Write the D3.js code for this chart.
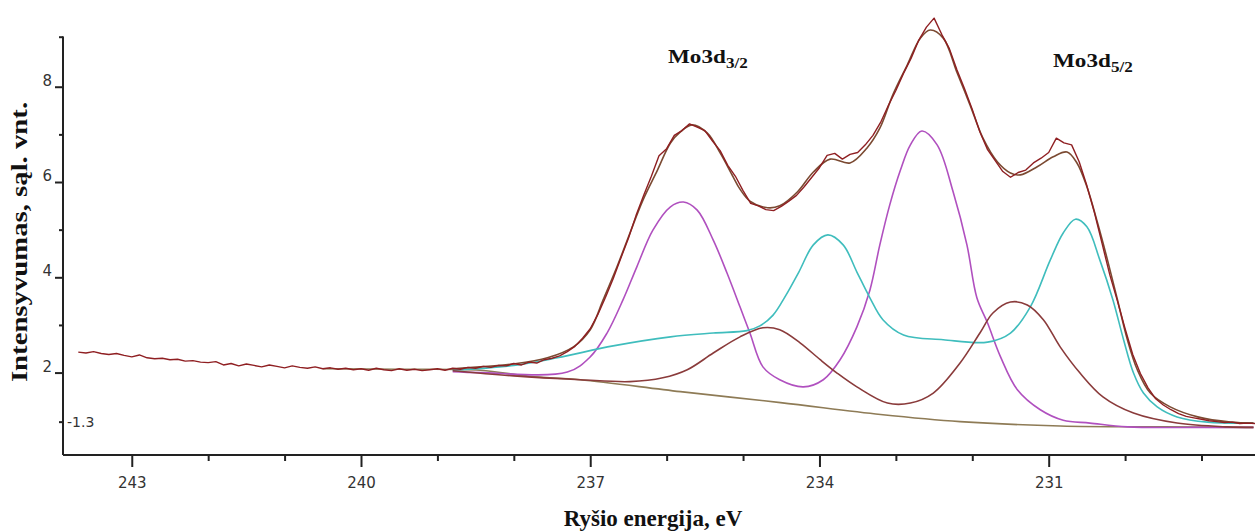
<!DOCTYPE html>
<html>
<head>
<meta charset="utf-8">
<script src="https://cdn.jsdelivr.net/npm/d3@7"></script>
<style>
  html, body { margin: 0; padding: 0; background: #fff; }
  svg { display: block; }
</style>
</head>
<body>
<svg id="chart" width="1255" height="531"></svg>
<script>
// Mo 3d XPS spectrum: binding energy (eV) vs intensity (arb. units)

// measured spectrum [eV, intensity]
const spectrum = [
  [243.7,2.43],[243.6,2.41],[243.5,2.44],[243.4,2.40],[243.3,2.38],[243.2,2.40],[243.1,2.36],[243.0,2.33],
  [242.9,2.37],[242.8,2.31],[242.7,2.29],[242.6,2.30],[242.5,2.27],[242.4,2.28],[242.3,2.24],[242.2,2.25],
  [242.1,2.22],[242.0,2.21],[241.9,2.23],[241.8,2.16],[241.7,2.19],[241.6,2.14],[241.5,2.18],[241.4,2.15],
  [241.3,2.12],[241.2,2.16],[241.1,2.13],[241.0,2.10],[240.9,2.14],[240.8,2.11],[240.7,2.09],[240.6,2.12],
  [240.5,2.08],[240.4,2.10],[240.3,2.07],[240.2,2.09],[240.1,2.06],[240.0,2.08],[239.9,2.05],[239.8,2.09],
  [239.7,2.06],[239.6,2.04],[239.5,2.08],[239.4,2.05],[239.3,2.07],[239.2,2.04],[239.1,2.06],[239.0,2.08],
  [238.9,2.05],[238.8,2.09],[238.7,2.07],[238.6,2.11],[238.5,2.09],[238.4,2.13],[238.3,2.11],[238.2,2.15],
  [238.1,2.14],[238.0,2.19],[237.9,2.16],[237.8,2.22],[237.7,2.20],[237.6,2.27],[237.5,2.30],[237.4,2.35],
  [237.3,2.44],[237.2,2.55],[237.1,2.72],[237.0,2.92],[236.9,3.22],[236.8,3.58],[236.7,3.97],[236.6,4.40],
  [236.5,4.82],[236.4,5.30],[236.3,5.72],[236.2,6.12],[236.1,6.55],[236.0,6.70],[235.9,6.98],[235.8,7.08],
  [235.7,7.22],[235.6,7.15],[235.5,7.08],[235.4,6.86],[235.3,6.66],[235.2,6.35],[235.1,6.12],[235.0,5.82],
  [234.9,5.55],[234.8,5.50],[234.7,5.42],[234.6,5.40],[234.5,5.49],[234.4,5.60],[234.3,5.72],[234.2,5.90],
  [234.1,6.10],[234.0,6.30],[233.9,6.56],[233.8,6.60],[233.7,6.48],[233.6,6.58],[233.5,6.62],[233.4,6.78],
  [233.3,6.98],[233.2,7.25],[233.1,7.60],[233.0,7.92],[232.9,8.28],[232.8,8.60],[232.7,8.98],[232.6,9.25],
  [232.5,9.44],[232.4,9.10],[232.3,8.80],[232.2,8.35],[232.1,7.95],[232.0,7.52],[231.9,7.05],[231.8,6.68],
  [231.7,6.45],[231.6,6.22],[231.5,6.10],[231.4,6.20],[231.3,6.25],[231.2,6.40],[231.1,6.50],[231.0,6.62],
  [230.9,6.92],[230.8,6.82],[230.7,6.78],[230.6,6.42],[230.5,5.92],[230.4,5.35],[230.3,4.70],[230.2,4.05],
  [230.1,3.50],[230.0,2.92],[229.9,2.38],[229.8,1.98],[229.7,1.68],[229.6,1.45],[229.5,1.32],[229.4,1.22],
  [229.3,1.14],[229.2,1.08],[229.1,1.05],[229.0,1.02],[228.9,0.99],[228.8,0.97],[228.7,0.95],[228.6,0.96],
  [228.5,0.93],[228.4,0.94],[228.3,0.93]
];

// fitted envelope
const envelope = [
  [238.8,2.08],[238.44,2.12],[238.01,2.18],[237.56,2.31],[237.22,2.54],[237.0,2.90],[236.83,3.53],
  [236.65,4.22],[236.48,4.93],[236.31,5.62],[236.12,6.25],[235.95,6.82],[235.82,7.05],[235.67,7.20],
  [235.47,7.03],[235.30,6.61],[235.13,6.11],[235.04,5.85],[234.91,5.60],[234.68,5.46],[234.52,5.50],
  [234.29,5.79],[234.08,6.21],[233.86,6.48],[233.60,6.40],[233.38,6.71],[233.21,7.13],[233.04,7.83],
  [232.85,8.46],[232.68,9.02],[232.55,9.19],[232.38,9.02],[232.20,8.30],[232.03,7.62],[231.86,6.92],
  [231.67,6.42],[231.50,6.19],[231.37,6.15],[231.15,6.32],[230.94,6.53],[230.76,6.63],[230.63,6.40],
  [230.50,5.90],[230.36,5.14],[230.23,4.36],[230.10,3.53],[229.97,2.69],[229.84,2.06],[229.67,1.57],
  [229.41,1.28],[229.05,1.07],[228.62,0.96],[228.32,0.94]
];

// component peaks (each drawn on the background)
const peaksA = [
  [238.8,2.02],[238.44,2.00],[237.30,2.01],[237.0,2.33],[236.78,2.83],[236.57,3.53],[236.39,4.22],
  [236.18,4.99],[235.95,5.48],[235.78,5.58],[235.60,5.41],[235.39,4.78],[235.21,4.09],[235.04,3.38],
  [234.91,2.83],[234.74,2.12],[234.52,1.85],[234.21,1.70],[233.95,1.85],[233.73,2.27],[233.51,2.96],
  [233.34,3.73],[233.21,4.68],[233.08,5.52],[232.94,6.25],[232.81,6.78],[232.66,7.07],[232.46,6.78],
  [232.25,5.79],[232.07,4.68],[231.94,3.57],[231.80,3.04],[231.63,2.33],[231.41,1.64],[231.11,1.22],
  [230.81,1.00],[230.46,0.94],[229.97,0.86],[229.0,0.85],[228.32,0.85]
];
const peaksB = [
  [238.8,2.05],[238.0,2.15],[237.43,2.31],[236.70,2.56],[235.95,2.75],[235.39,2.83],[234.95,2.88],
  [234.78,2.98],[234.61,3.20],[234.44,3.62],[234.27,4.11],[234.08,4.68],[233.89,4.89],[233.69,4.68],
  [233.51,4.11],[233.34,3.57],[233.17,3.11],[232.90,2.79],[232.38,2.69],[231.80,2.64],[231.50,2.83],
  [231.24,3.38],[230.98,4.36],[230.81,4.93],[230.65,5.22],[230.50,5.06],[230.33,4.36],[230.16,3.53],
  [230.02,2.69],[229.89,1.99],[229.76,1.57],[229.58,1.28],[229.32,1.07],[228.92,0.96],[228.32,0.94]
];
const peaksC = [
  [238.8,2.04],[238.0,1.93],[237.13,1.85],[236.48,1.81],[236.05,1.89],[235.73,2.06],[235.39,2.41],
  [235.04,2.75],[234.74,2.94],[234.52,2.90],[234.25,2.62],[233.99,2.27],[233.77,1.99],[233.51,1.70],
  [233.11,1.36],[232.81,1.36],[232.51,1.57],[232.16,2.20],[231.90,2.83],[231.73,3.25],[231.50,3.48],
  [231.28,3.42],[231.07,3.11],[230.85,2.54],[230.59,1.99],[230.29,1.49],[229.89,1.15],[229.32,0.94],
  [228.66,0.86],[228.32,0.85]
];
const background = [
  [240.5,2.08],[239.5,2.07],[238.44,2.05],[237.79,1.92],[237.13,1.85],[235.82,1.60],[234.51,1.37],
  [233.2,1.12],[232.16,0.97],[230.85,0.88],[229.5,0.86],[228.32,0.85]
];

// axis ticks
const xMajorTicks = [243, 240, 237, 234, 231];
const xMinorTicks = [242, 241, 239, 238, 236, 235, 233, 232, 230, 229];
const yMajorTicks = [8, 6, 4, 2];
const yMinorTicks = [9.05, 7, 5, 3];
const yOriginTick = 0.97;
const yOriginLabel = "-1.3";

const svg = d3.select("#chart");
const x = d3.scaleLinear().domain([243.9, 228.3]).range([63, 1255]);
const y = d3.scaleLinear().domain([0.27, 9.05]).range([455, 36.7]);

const smoothLine = d3.line().x(d => x(d[0])).y(d => y(d[1])).curve(d3.curveCatmullRom.alpha(0.5));
const rawLine = d3.line().x(d => x(d[0])).y(d => y(d[1]));

const plot = svg.append("g");
function draw(data, color, width, gen) {
  plot.append("path").datum(data)
    .attr("fill", "none").attr("stroke", color)
    .attr("stroke-width", width).attr("stroke-linejoin", "round")
    .attr("d", gen);
}
draw(background, "#8e7b56", 1.6, smoothLine);
draw(peaksA, "#b050bf", 1.6, smoothLine);
draw(peaksB, "#3fbdbd", 1.6, smoothLine);
draw(peaksC, "#8a3b3b", 1.6, smoothLine);
draw(envelope, "#7b4a32", 1.6, smoothLine);
draw(spectrum, "#8f1f22", 1.4, rawLine);

// axes
const axisColor = "#222";
const gx = svg.append("g").attr("transform", "translate(0,455)");
gx.call(d3.axisBottom(x).tickValues(xMajorTicks).tickSize(12).tickPadding(10).tickFormat(d3.format("d")));
gx.append("g").call(d3.axisBottom(x).tickValues(xMinorTicks).tickSize(6).tickFormat(""));
gx.selectAll(".domain").attr("d", `M63,0H1255`);

const gy = svg.append("g").attr("transform", "translate(63,0)");
gy.call(d3.axisLeft(y).tickValues(yMajorTicks).tickSize(8).tickPadding(3).tickFormat(d3.format("d")));
gy.append("g").call(d3.axisLeft(y).tickValues(yMinorTicks).tickSize(4).tickFormat(""));
const gOrigin = gy.append("g").call(d3.axisLeft(y).tickValues([yOriginTick]).tickSize(4).tickFormat(() => yOriginLabel));
gy.selectAll(".domain").attr("d", `M0,${y(9.05)}V455`);

svg.selectAll(".domain").attr("stroke", axisColor).attr("stroke-width", 2);
svg.selectAll(".tick line").attr("stroke", axisColor).attr("stroke-width", 2);
svg.selectAll(".tick text").attr("fill", "#333")
  .style("font-family", "'DejaVu Sans', Verdana, sans-serif").style("font-size", "15px");
// y labels sit on their ticks
gy.selectAll(".tick text").attr("dy", "-0.1em");
// origin label is drawn inside the plot
gOrigin.selectAll(".tick text").attr("text-anchor", "start").attr("x", 4).attr("dy", "0.35em")
  .style("font-size", "14px");

// titles
const serif = "'Liberation Serif', 'Times New Roman', serif";
svg.append("text").attr("x", 653).attr("y", 526).attr("text-anchor", "middle")
  .style("font-family", serif).style("font-weight", "bold").style("font-size", "23px").attr("fill", "#111")
  .text("Ryšio energija, eV");
svg.append("text").attr("transform", "translate(27,242) rotate(-90) scale(1.25,1)").attr("text-anchor", "middle")
  .style("font-family", serif).style("font-weight", "bold").style("font-size", "23px").attr("fill", "#111")
  .text("Intensyvumas, sąl. vnt.");

// peak labels
function peakLabel(px, py, sub) {
  const t = svg.append("text").attr("transform", `translate(${px},${py}) scale(1.22,1)`)
    .style("font-family", serif).style("font-weight", "bold").style("font-size", "19px").attr("fill", "#111");
  t.append("tspan").text("Mo3d");
  t.append("tspan").attr("dy", "5").style("font-size", "14px").text(sub);
}
peakLabel(668, 63, "3/2");
peakLabel(1053, 67, "5/2");
</script>
</body>
</html>
